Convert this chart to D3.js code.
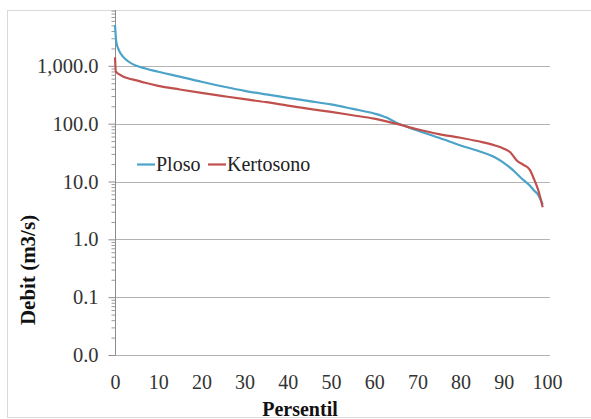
<!DOCTYPE html>
<html>
<head>
<meta charset="utf-8">
<script src="https://cdn.jsdelivr.net/npm/d3@7"></script>
<style>
  body { margin: 0; background: #fff; }
  svg { display: block; }
</style>
</head>
<body>
<div id="chart"></div>
<script>
// Flow duration curves
const plosoPct   = [0, 0.3, 1, 2, 3, 5, 7, 10, 15, 20, 25, 30, 35, 40, 45, 50, 55, 60, 63, 65, 68, 70, 75, 80, 85, 88, 90, 92, 94, 96, 97, 98, 99];
const plosoDebit = [5100, 2600, 1800, 1400, 1200, 1000, 900, 790, 650, 530, 440, 370, 320, 280, 245, 215, 180, 150, 126, 105, 86, 76, 57, 42, 32, 26, 21, 16, 11.5, 8.5, 7, 5.8, 4];

const kertoPct   = [0, 0.2, 1, 2, 3, 5, 7, 10, 15, 20, 25, 30, 35, 40, 45, 50, 55, 60, 65, 70, 75, 80, 85, 88, 90, 91.5, 93, 94.5, 96, 97, 98, 99];
const kertoDebit = [1400, 800, 710, 650, 610, 560, 510, 450, 390, 340, 300, 265, 235, 205, 180, 160, 140, 122, 100, 80, 66, 57, 48, 42, 37, 32, 23, 19.5, 16, 11, 7, 3.6];

const seriesNames = ["Ploso", "Kertosono"];
const seriesColors = ["#4BA3C8", "#C0504D"];

const yTicks = [0.01, 0.1, 1, 10, 100, 1000];
const xTicks = [0, 10, 20, 30, 40, 50, 60, 70, 80, 90, 100];

const W = 591, H = 419;
const FONT = "Liberation Serif";

const svg = d3.select("#chart").append("svg")
  .attr("width", W)
  .attr("height", H)
  .attr("font-family", FONT);

// chart border
svg.append("rect")
  .attr("x", 7.5).attr("y", 10.5)
  .attr("width", 700).attr("height", 407)
  .attr("fill", "#fff")
  .attr("stroke", "#d9d9d9");

const x = d3.scaleLinear().domain([0, 100]).range([115, 547]);
const y = d3.scaleLog().domain([0.01, 10000]).range([355, 8]);

// gridlines
svg.append("g")
  .selectAll("line")
  .data(yTicks)
  .join("line")
  .attr("x1", 115).attr("x2", 550)
  .attr("y1", d => Math.round(y(d)) + 0.5)
  .attr("y2", d => Math.round(y(d)) + 0.5)
  .attr("stroke", "#b3b3b3")
  .attr("stroke-width", 1.2);

// minor ticks on y axis
const minor = y.ticks().filter(d => !yTicks.includes(d) && d < 10000);
svg.append("g")
  .attr("transform", "translate(115.5,0)")
  .call(d3.axisLeft(y).tickValues(minor).tickSize(4).tickSizeOuter(0).tickFormat(""))
  .call(g => g.select(".domain").remove())
  .selectAll("line").attr("stroke", "#9a9a9a");

// y axis
const yAxis = svg.append("g")
  .attr("transform", "translate(115.5,0)")
  .call(d3.axisLeft(y)
    .tickValues(yTicks)
    .tickFormat(d3.format(",.1f"))
    .tickSize(7)
    .tickSizeOuter(0)
    .tickPadding(10))
  .attr("font-family", FONT);
yAxis.select(".domain").attr("stroke", "#8c8c8c").attr("d", `M0,${y(0.01)}V10`);
yAxis.selectAll("line").attr("stroke", "#8c8c8c");
yAxis.selectAll("text")
  .attr("font-size", 20.5)
  .attr("fill", "#333");

// x axis labels
const xAxis = svg.append("g")
  .attr("transform", `translate(0,${y(0.01)})`)
  .call(d3.axisBottom(x).tickValues(xTicks).tickSize(0).tickPadding(20))
  .attr("font-family", FONT);
xAxis.select(".domain").remove();
xAxis.selectAll("text")
  .attr("font-size", 20)
  .attr("fill", "#333");

// lines
const line = d3.line()
  .x(d => x(d[0]))
  .y(d => y(d[1]))
  .curve(d3.curveMonotoneX);

const seriesData = [
  d3.zip(plosoPct, plosoDebit),
  d3.zip(kertoPct, kertoDebit)
];

svg.append("g")
  .selectAll("path")
  .data(seriesData)
  .join("path")
  .attr("d", line)
  .attr("fill", "none")
  .attr("stroke", (d, i) => seriesColors[i])
  .attr("stroke-width", 2.2)
  .attr("stroke-linejoin", "round");

// legend
const legend = svg.append("g");
seriesNames.forEach((name, i) => {
  const lx = i === 0 ? 137 : 208;
  legend.append("line")
    .attr("x1", lx).attr("x2", lx + 18)
    .attr("y1", 164.5).attr("y2", 164.5)
    .attr("stroke", seriesColors[i])
    .attr("stroke-width", 2.2);
  legend.append("text")
    .attr("x", lx + 19)
    .attr("y", 171)
    .attr("font-size", 20)
    .attr("fill", "#222")
    .text(name);
});

// axis titles
svg.append("text")
  .attr("transform", "rotate(-90)")
  .attr("x", -270)
  .attr("y", 28)
  .attr("dy", "0.35em")
  .attr("text-anchor", "middle")
  .attr("font-size", 21)
  .attr("font-weight", "bold")
  .attr("fill", "#111")
  .text("Debit (m3/s)");

svg.append("text")
  .attr("x", 300)
  .attr("y", 416)
  .attr("text-anchor", "middle")
  .attr("font-size", 20)
  .attr("font-weight", "bold")
  .attr("fill", "#111")
  .text("Persentil");
</script>
</body>
</html>
